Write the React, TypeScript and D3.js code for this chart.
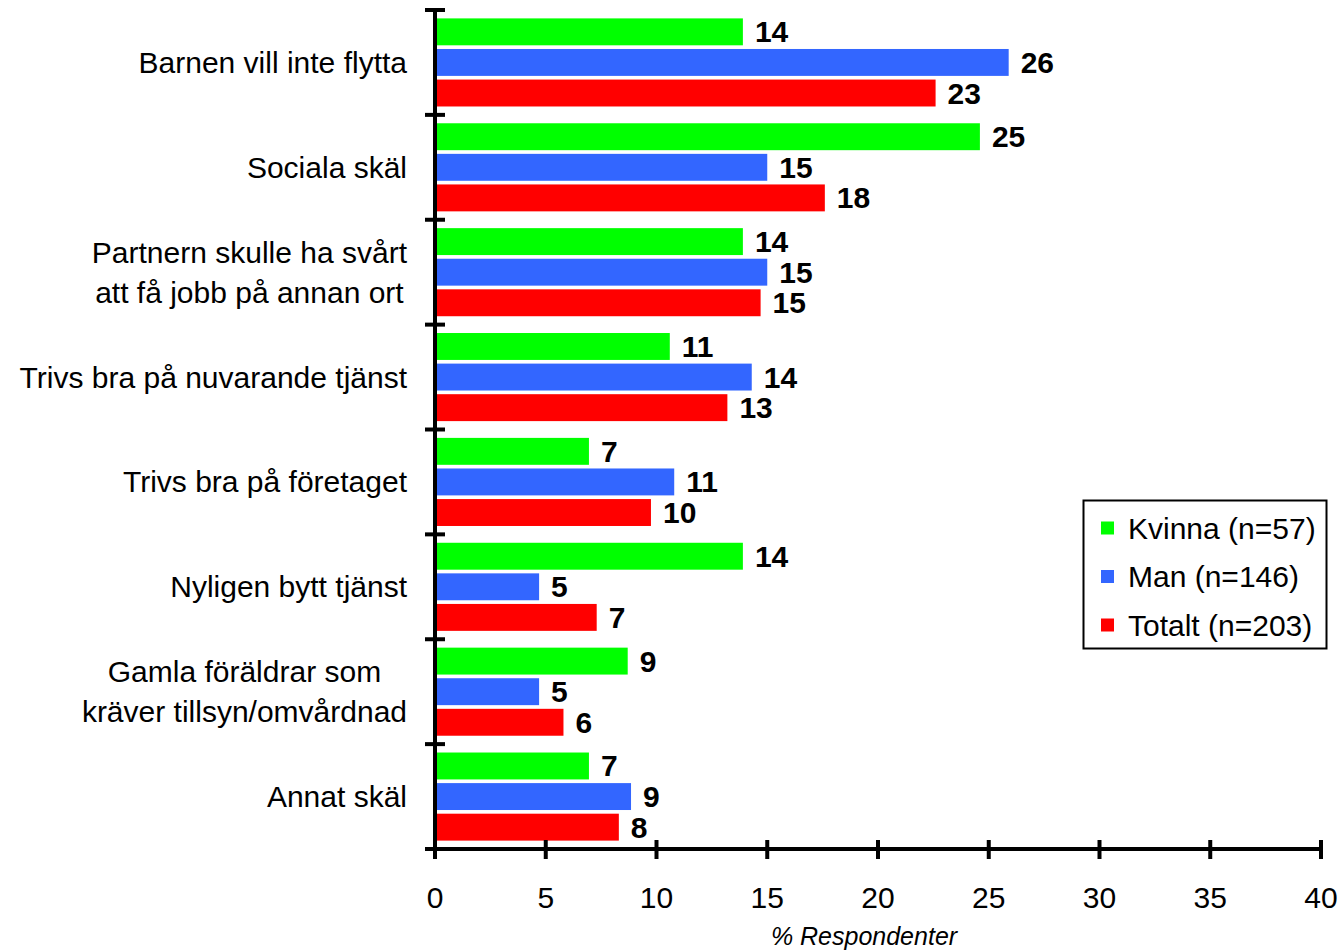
import React, { useEffect, useRef } from "react";
import * as d3 from "d3";

const categories: string[][] = [
  ["Barnen vill inte flytta"],
  ["Sociala skäl"],
  ["Partnern skulle ha svårt", "att få jobb på annan ort"],
  ["Trivs bra på nuvarande tjänst"],
  ["Trivs bra på företaget"],
  ["Nyligen bytt tjänst"],
  ["Gamla föräldrar som", "kräver tillsyn/omvårdnad"],
  ["Annat skäl"],
];
const seriesNames = ["Kvinna (n=57)", "Man (n=146)", "Totalt (n=203)"];
const seriesColors = ["#00FF00", "#3366FF", "#FF0000"];
const kvinna = [13.9, 24.6, 13.9, 10.6, 6.95, 13.9, 8.7, 6.95];
const man = [25.9, 15.0, 15.0, 14.3, 10.8, 4.7, 4.7, 8.85];
const totalt = [22.6, 17.6, 14.7, 13.2, 9.75, 7.3, 5.8, 8.3];
const xTicks = [0, 5, 10, 15, 20, 25, 30, 35, 40];
const xTitle = "% Respondenter";

const W = 1343;
const H = 951;
const FONT = "Arial, 'Liberation Sans', sans-serif";

export default function App() {
  const ref = useRef<SVGSVGElement>(null);

  useEffect(() => {
    const svg = d3.select(ref.current);
    svg.selectAll("*").remove();

    const series = [kvinna, man, totalt];
    const x = d3.scaleLinear().domain([0, 40]).range([435, 1321]);
    const y = d3
      .scaleBand<number>()
      .domain(d3.range(categories.length))
      .range([10, 849])
      .paddingInner(0.16)
      .paddingOuter(0.08);
    const yInner = d3
      .scaleBand<number>()
      .domain([0, 1, 2])
      .range([0, y.bandwidth()])
      .paddingInner(0.12)
      .paddingOuter(0);

    const step = y.step();
    const catTop = (i: number) => 10 + i * step;

    // bars
    const g = svg.append("g");
    categories.forEach((_, ci) => {
      series.forEach((vals, si) => {
        const v = vals[ci];
        const by = (y(ci) as number) + (yInner(si) as number);
        g.append("rect")
          .attr("x", x(0))
          .attr("y", by)
          .attr("width", x(v) - x(0))
          .attr("height", yInner.bandwidth())
          .attr("fill", seriesColors[si]);
        g.append("text")
          .attr("x", x(v) + 12)
          .attr("y", by + yInner.bandwidth() / 2 + 10.5)
          .attr("font-family", FONT)
          .attr("font-size", 30)
          .attr("font-weight", "bold")
          .attr("fill", "#000")
          .text(String(Math.round(v)));
      });
    });

    // category labels
    categories.forEach((lines, ci) => {
      const yc = catTop(ci) + step / 2;
      const grp = svg.append("g");
      const texts = lines.map((ln, li) =>
        grp
          .append("text")
          .attr("y", yc + (li - (lines.length - 1) / 2) * 40 + 10.5)
          .attr("font-family", FONT)
          .attr("font-size", 30)
          .attr("fill", "#000")
          .attr("text-anchor", "middle")
          .text(ln)
      );
      const maxW = d3.max(texts, (t) => (t.node() as SVGTextElement).getComputedTextLength()) || 0;
      texts.forEach((t) => t.attr("x", 407 - maxW / 2));
    });

    // y axis
    const axis = svg.append("g").attr("stroke", "#000").attr("stroke-width", 4);
    axis.append("line").attr("x1", 435).attr("x2", 435).attr("y1", 10).attr("y2", 849);
    d3.range(categories.length + 1).forEach((i) => {
      const yy = i === categories.length ? 849 : catTop(i);
      axis.append("line").attr("x1", 425).attr("x2", 445).attr("y1", yy).attr("y2", yy);
    });

    // x axis
    axis.append("line").attr("x1", 425).attr("x2", 1321).attr("y1", 849).attr("y2", 849);
    xTicks.forEach((t) => {
      axis.append("line").attr("x1", x(t)).attr("x2", x(t)).attr("y1", 840).attr("y2", 859);
      svg
        .append("text")
        .attr("x", x(t))
        .attr("y", 908)
        .attr("text-anchor", "middle")
        .attr("font-family", FONT)
        .attr("font-size", 30)
        .attr("fill", "#000")
        .text(String(t));
    });
    svg
      .append("text")
      .attr("x", 864)
      .attr("y", 945)
      .attr("text-anchor", "middle")
      .attr("font-family", FONT)
      .attr("font-size", 25)
      .attr("font-style", "italic")
      .attr("fill", "#000")
      .text(xTitle);

    // legend
    const lg = svg.append("g");
    lg.append("rect")
      .attr("x", 1083.5)
      .attr("y", 500.5)
      .attr("width", 243)
      .attr("height", 148)
      .attr("fill", "#fff")
      .attr("stroke", "#000")
      .attr("stroke-width", 2);
    seriesNames.forEach((name, i) => {
      const cy = 528 + i * 48.5;
      lg.append("rect")
        .attr("x", 1101)
        .attr("y", cy - 6.5)
        .attr("width", 13)
        .attr("height", 13)
        .attr("fill", seriesColors[i]);
      lg.append("text")
        .attr("x", 1128)
        .attr("y", cy + 10.5)
        .attr("font-family", FONT)
        .attr("font-size", 30)
        .attr("fill", "#000")
        .text(name);
    });
  }, []);

  return (
    <svg
      ref={ref}
      width={W}
      height={H}
      style={{ position: "absolute", left: 0, top: 0, background: "#fff" }}
    />
  );
}
